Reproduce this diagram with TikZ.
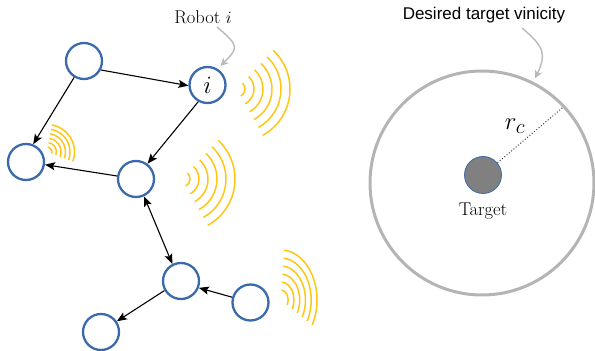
\documentclass[tikz,border=0pt]{standalone}
\usepackage{fontspec}
\newfontfamily\labelsans{Liberation Sans}
\usetikzlibrary{arrows.meta}

\definecolor{robotblue}{RGB}{58,106,172}
\definecolor{waveyellow}{RGB}{255,198,20}
\definecolor{ringgray}{RGB}{180,180,180}
\definecolor{calloutgray}{RGB}{185,185,185}
\definecolor{targetgray}{RGB}{128,128,128}

\begin{document}
\begin{tikzpicture}[x=1pt,y=1pt,
  robot/.style={circle, draw=robotblue, line width=2.3pt, minimum size=36pt, inner sep=0pt, fill=white},
  link/.style={line width=1.1pt, -{Stealth[length=10pt,width=8pt,inset=2pt]}},
  dlink/.style={line width=1.1pt, {Stealth[length=10pt,width=8pt,inset=2pt]}-{Stealth[length=10pt,width=8pt,inset=2pt]}},
  wave/.style={draw=waveyellow, line width=1.5pt},
  callout/.style={draw=calloutgray, line width=1.4pt, -{Stealth[length=8pt,width=8pt]}},
  seriflabel/.style={font=\fontsize{18.5}{22}\selectfont, inner sep=0pt},
]
\useasboundingbox (0,0) rectangle (595,351);

% ---- radio waves around the robots ----
\foreach \r in {8,17,...,53}
  \draw[wave] (237,262) ++(-61:\r) arc[start angle=-61, end angle=47, radius=\r];
\foreach \r in {8,17,...,53}
  \draw[wave] (182,172) ++(-61:\r) arc[start angle=-61, end angle=47, radius=\r];
\foreach \r in {5,9.5,...,27.5}
  \draw[wave] (47,199) ++(-20:\r) arc[start angle=-20, end angle=80, radius=\r];
\foreach \s in {0.2,0.36,0.52,0.68,0.84,1.0} {
  \pgfmathsetmacro\rx{36*\s}
  \pgfmathsetmacro\ry{50*\s}
  \draw[wave] (281,51) ++({\rx*cos(-30)},{\ry*sin(-30)}) arc[start angle=-30, end angle=85, x radius=\rx, y radius=\ry];
}

% ---- robots ----
\node[robot] (A) at (84,290) {};
\node[robot, font=\fontsize{27}{30}\selectfont] (B) at (207.5,266) {$i$};
\node[robot] (C) at (26,189) {};
\node[robot] (D) at (136,172) {};
\node[robot] (E) at (181,70) {};
\node[robot] (F) at (250.5,48.5) {};
\node[robot] (G) at (101,19) {};

% ---- communication links ----
\draw[link] (A.-28) -- (B.182);
\draw[link] (A.239) -- (C.68);
\draw[link] (B.241) -- (D.53);
\draw[link] (D.171) -- (C.-8);
\draw[dlink] (D.-65) -- (E.117);
\draw[link] (F.164) -- (E.-21);
\draw[link] (E.210) -- (G.34);

% ---- robot label ----
\node[seriflabel] (robotlbl) at (203,334) {Robot $i$};
\coordinate (robottail) at (217,324);
\draw[callout, shorten >=4pt] (robottail) to[out=-40, in=45, looseness=1.8] (B.58);

% ---- target and its vicinity ----
\node[circle, draw=ringgray, line width=3pt, minimum size=224pt, inner sep=0pt] (vicinity) at (482,168) {};
\node[circle, fill=targetgray, draw=robotblue, line width=0.8pt, minimum size=37pt, inner sep=0pt] (target) at (483,176) {};
\node[seriflabel] (targetlbl) at (483,140) {Target};
\draw[dotted, line width=1pt, black!75, shorten >=3pt] (target.40) -- (vicinity.43);
\node[font=\fontsize{30}{34}\selectfont, inner sep=0pt] (rc) at (515,225) {$r_c$};

\node[font=\labelsans\fontsize{17}{20}\selectfont, inner sep=0pt] (vicinitylbl) at (484,336) {Desired target vinicity};
\coordinate (vicinitytail) at (522,323);
\draw[callout, shorten >=4pt] (vicinitytail) to[out=-40, in=65, looseness=1.4] (vicinity.63);
\end{tikzpicture}
\end{document}
